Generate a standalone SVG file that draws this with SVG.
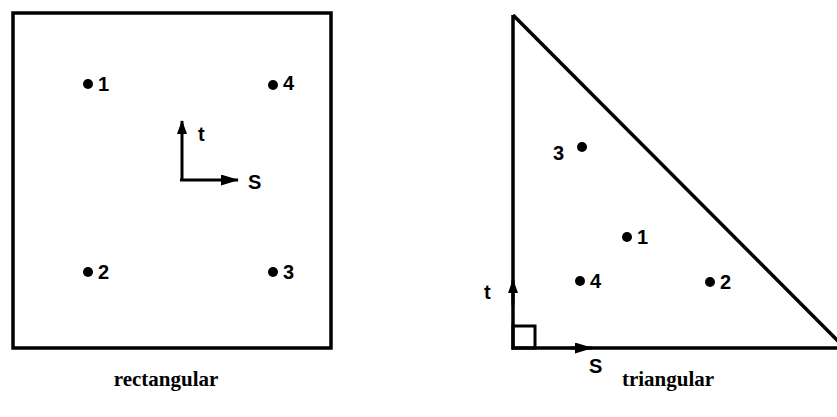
<svg xmlns="http://www.w3.org/2000/svg" width="837" height="417" viewBox="0 0 837 417">
<style>
.frame{fill:none;stroke:#000;stroke-width:3.5;stroke-linejoin:miter}
.ax{fill:none;stroke:#000;stroke-width:3}
.dot{fill:#000}
.lbl{font-family:"Liberation Sans",Arial,sans-serif;font-weight:bold;font-size:20px;fill:#000}
.cap{font-family:"Liberation Serif","Times New Roman",serif;font-weight:bold;font-size:21px;fill:#000;text-anchor:middle}
</style>
<defs>
<marker id="ah" markerWidth="14" markerHeight="10" refX="13" refY="5" orient="auto" markerUnits="userSpaceOnUse" viewBox="0 0 14 10">
<path d="M0,0 L14,5 L0,10 Z" fill="#000"/>
</marker>
<marker id="ahL" markerWidth="18" markerHeight="11" refX="17" refY="5.5" orient="auto" markerUnits="userSpaceOnUse" viewBox="0 0 18 11">
<path d="M0,0 L18,5.5 L0,11 Z" fill="#000"/>
</marker>
</defs>
<g id="rectangular">
<rect class="frame" x="13" y="13" width="318" height="335"/>
<g id="r-p1"><circle class="dot" cx="88" cy="84" r="5"/><text class="lbl" x="98" y="91">1</text></g>
<g id="r-p4"><circle class="dot" cx="273" cy="85" r="5"/><text class="lbl" x="283" y="90">4</text></g>
<g id="r-p2"><circle class="dot" cx="88" cy="272" r="5"/><text class="lbl" x="98" y="279">2</text></g>
<g id="r-p3"><circle class="dot" cx="273" cy="272" r="5"/><text class="lbl" x="283" y="279">3</text></g>
<text class="lbl" x="198" y="141">t</text>
<text class="lbl" x="248" y="189">S</text>
<text class="cap" x="166" y="386">rectangular</text>
</g>
<g id="triangular">
<path class="frame" d="M513,15 L513,348 L840,348 M513,15 L840,343"/>
<rect fill="none" stroke="#000" stroke-width="3" x="513" y="326" width="22" height="22"/>
<g id="t-p3"><circle class="dot" cx="582" cy="147" r="5"/><text class="lbl" x="553" y="160">3</text></g>
<g id="t-p1"><circle class="dot" cx="627" cy="237" r="5"/><text class="lbl" x="637" y="244">1</text></g>
<g id="t-p4"><circle class="dot" cx="580" cy="281" r="5"/><text class="lbl" x="590" y="288">4</text></g>
<g id="t-p2"><circle class="dot" cx="710" cy="282" r="5"/><text class="lbl" x="720" y="289">2</text></g>
<text class="lbl" x="484" y="299">t</text>
<text class="lbl" x="589" y="373">S</text>
<text class="cap" x="668" y="386">triangular</text>
</g>
<g id="connectors">
<path class="ax" d="M182,181 L182,121" marker-end="url(#ah)"/>
<path class="ax" d="M180,180 L238,180" marker-end="url(#ahL)"/>
<path class="ax" d="M513,305 L513,280" marker-end="url(#ah)"/>
<path class="ax" d="M570,348 L592,348" marker-end="url(#ahL)"/>
</g>
</svg>
